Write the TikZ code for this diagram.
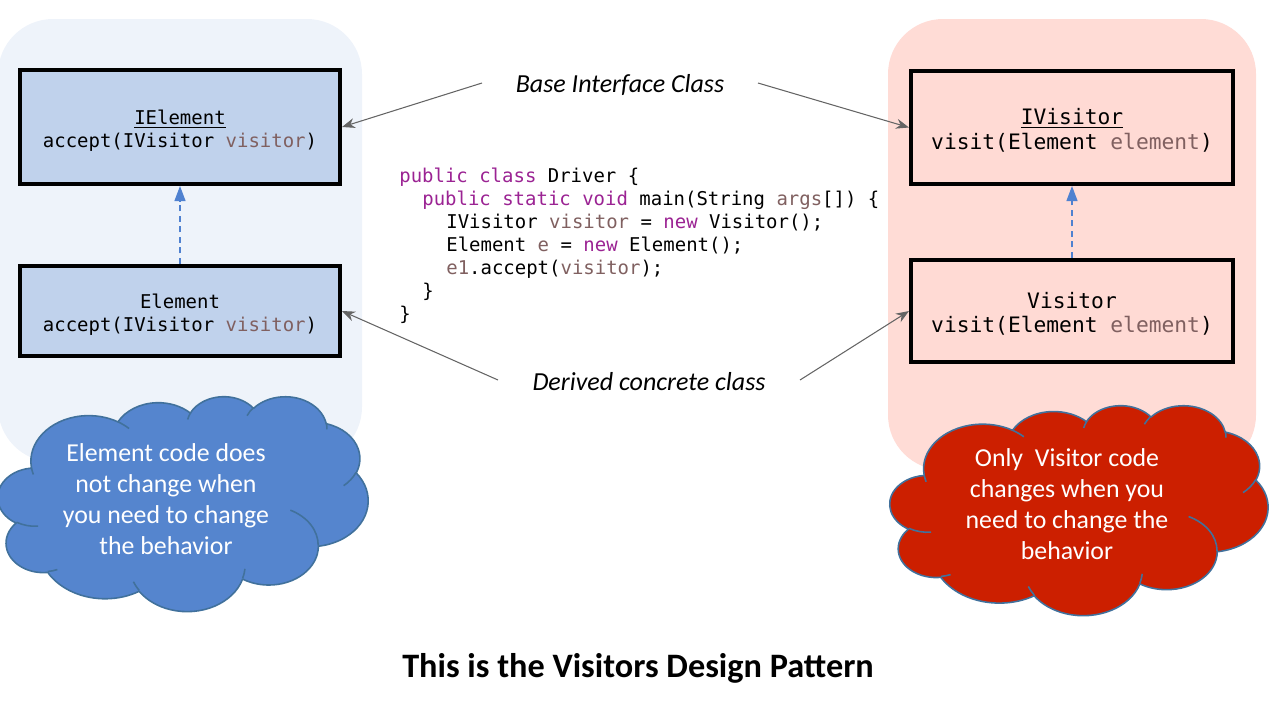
\documentclass[tikz,border=0pt]{standalone}
\usepackage{fontspec}
\setmainfont{Carlito}
\newfontfamily\codefont{DejaVu Sans Mono}
\usetikzlibrary{arrows.meta}
\definecolor{panelblue}{RGB}{238,243,250}
\definecolor{panelpink}{RGB}{255,220,214}
\definecolor{boxblue}{RGB}{192,210,236}
\definecolor{boxpink}{RGB}{255,218,212}
\definecolor{kw}{RGB}{155,35,147}
\definecolor{var}{RGB}{128,96,96}
\definecolor{dashblue}{RGB}{79,129,208}
\definecolor{cloudblue}{RGB}{85,133,206}
\definecolor{cloudred}{RGB}{204,31,0}
\definecolor{cloudline}{RGB}{65,113,156}
\definecolor{arrowgray}{RGB}{100,100,100}
\newcommand{\kw}[1]{\textcolor{kw}{#1}}
\newcommand{\vr}[1]{\textcolor{var}{#1}}
% visual-angle elliptical arc helper (OOXML arcTo)
\newcommand{\cldcalc}[4]{%
  \pgfmathsetmacro\cldA{atan2((#1)*sin(#3),(#2)*cos(#3))}%
  \pgfmathsetmacro\cldB{atan2((#1)*sin((#3)+(#4)),(#2)*cos((#3)+(#4)))}%
  \pgfmathsetmacro\cldD{\cldB-\cldA}%
  \pgfmathsetmacro\cldD{(\cldD-(#4)>180) ? (\cldD-360) : ((\cldD-(#4)<-180) ? (\cldD+360) : \cldD)}%
}
\newcommand{\cldarc}[4]{\pgfextra{\cldcalc{#1}{#2}{#3}{#4}} arc[start angle=\cldA, delta angle=\cldD, x radius=#1, y radius=#2]}
\newcommand{\officecloud}[1]{%
  \path[draw=cloudline, line width=0.9pt, fill=#1, line join=round]
    (39.00,143.70)
    \cldarc{67.53}{91.90}{-190.4875}{123.7805}
    \cldarc{53.33}{72.67}{-144.1024}{89.9452}
    \cldarc{43.65}{59.45}{-145.8079}{99.7230}
    \cldarc{48.57}{65.95}{-130.9861}{117.2417}
    \cldarc{53.33}{72.73}{-78.7089}{109.0269}
    \cldarc{67.75}{92.20}{-46.2673}{130.2690}
    \cldarc{57.85}{78.67}{0.6250}{114.0333}
    \cldarc{67.52}{92.15}{22.4516}{115.1726}
    \cldarc{77.20}{105.43}{66.2426}{75.7110}
    \cldarc{43.60}{59.18}{-274.9421}{146.7356}
    \cldarc{43.45}{59.45}{-246.8285}{152.5189}
    -- cycle;
  \path[draw=cloudline, line width=0.9pt]
    (46.93,261.77) \cldarc{43.45}{59.45}{86.7420}{26.4295}
    (69.28,348.99) \cldarc{43.60}{59.18}{73.6105}{11.4475}
    (164.78,390.90) \cldarc{67.52}{92.15}{137.6242}{14.0811}
    (288.27,347.51) \cldarc{67.52}{92.15}{6.4533}{15.9984}
    (341.29,229.54) \cldarc{57.85}{78.67}{-70.2924}{70.9174}
    (417.98,153.54) \cldarc{53.33}{72.73}{30.3180}{27.7515}
    (383.24,54.26) \cldarc{48.57}{65.95}{-13.7443}{14.8553}
    (290.78,39.52) \cldarc{48.57}{65.95}{-149.1815}{18.1874}
    (221.41,47.20) \cldarc{43.65}{59.45}{-163.4943}{17.6914}
    (140.00,51.92) \cldarc{67.53}{91.90}{-66.7070}{12.3194}
    (41.27,157.89) \cldarc{67.53}{91.90}{157.6544}{11.8582};
}
\tikzset{
  classbox/.style={draw=black, line width=2.3pt, minimum width=6.4cm, align=center,
    font=\codefont\fontsize{10.8}{13.1}\selectfont, inner sep=0pt},
  bigclass/.style={classbox, minimum width=6.44cm, font=\codefont\fontsize{12.1}{13.8}\selectfont},
  codeline/.style={anchor=base west, inner sep=0pt, font=\codefont\fontsize{10.8}{13.1}\selectfont},
  lbl/.style={font=\itshape\fontsize{14.8}{17}\selectfont, inner sep=0pt},
  grayarrow/.style={draw=arrowgray, line width=0.6pt, -{Stealth[length=0.26cm,width=0.2cm]}},
  dasharrow/.style={draw=dashblue, line width=0.7pt, dash pattern=on 3.5pt off 2.5pt,
    -{Triangle[length=0.3cm,width=0.22cm]}},
  cloudtext/.style={text=white, align=center, font=\fontsize{14.7}{17.6}\selectfont, inner sep=0pt},
}
\begin{document}
\begin{tikzpicture}[x=0.02cm,y=-0.02cm]
\useasboundingbox (0,0) rectangle (1271,701);
\clip (0,0) rectangle (1271,701);
% panels
\fill[panelblue, rounded corners=1.1cm] (-2,19) rectangle (362,462);
\fill[panelpink, rounded corners=1.1cm] (888,19) rectangle (1256,470);
% class boxes
\node[classbox, fill=boxblue, minimum height=2.28cm] (ie) at (180,127)
  {\rule{0pt}{12.7pt}\underline{IElement}\\accept(IVisitor \vr{visitor})};
\node[classbox, fill=boxblue, minimum height=1.8cm] (el) at (180,311)
  {\rule{0pt}{12.7pt}Element\\accept(IVisitor \vr{visitor})};
\node[bigclass, fill=boxpink, minimum height=2.26cm] (iv) at (1072,127.5)
  {\rule{0pt}{12.5pt}\underline{IVisitor}\\visit(Element \vr{element})};
\node[bigclass, fill=boxpink, minimum height=2.04cm] (vi) at (1072,311)
  {\rule{0pt}{12.5pt}Visitor\\visit(Element \vr{element})};
\draw[dasharrow] (el.north) -- (ie.south);
\draw[dasharrow] (vi.north) -- (iv.south);
% code
\node[codeline] (c1) at (399,182) {\kw{public class} Driver \{};
\node[codeline] (c2) at (422,205) {\kw{public static void} main(String \vr{args}[]) \{};
\node[codeline] (c3) at (446,228) {IVisitor \vr{visitor} = \kw{new} Visitor();};
\node[codeline] (c4) at (446,251) {Element \vr{e} = \kw{new} Element();};
\node[codeline] (c5) at (446,274) {\vr{e1}.accept(\vr{visitor});};
\node[codeline] (c6) at (422,297) {\}};
\node[codeline] (c7) at (399,320) {\}};
% labels
\node[lbl] (base) at (620,85) {Base Interface Class};
\node[lbl] (derived) at (649,382) {Derived concrete class};
\coordinate (bl) at (482,83);
\coordinate (br) at (758,83);
\coordinate (dl) at (498,380);
\coordinate (dr) at (800,380);
\draw[grayarrow] (bl) -- (ie.east);
\draw[grayarrow] (br) -- (iv.west);
\draw[grayarrow] (dl) -- (el.east);
\draw[grayarrow] (dr) -- (vi.west);
% clouds
\begin{scope}[shift={(-2,396)}, x={(0.017130cm,0cm)}, y={(0cm,-0.009954cm)}]
  \officecloud{cloudblue}
\end{scope}
\begin{scope}[shift={(890,405)}, x={(0.0175cm,0cm)}, y={(0cm,-0.009722cm)}]
  \officecloud{cloudred}
\end{scope}
\node[cloudtext] (lct) at (166,499) {Element code does\\not change when\\you need to change\\the behavior};
\node[cloudtext] (rct) at (1067,504) {Only\ \ Visitor code\\changes when you\\need to change the\\behavior};
% title
\node[font=\bfseries\fontsize{19.5}{23}\selectfont, inner sep=0pt] (title) at (638,668)
  {This is the Visitors Design Pattern};
\end{tikzpicture}
\end{document}
